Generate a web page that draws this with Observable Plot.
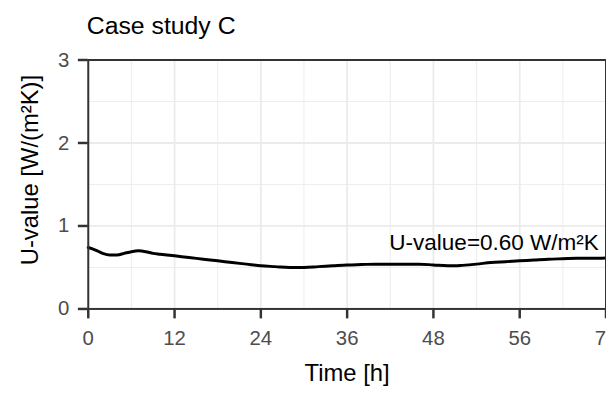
<!DOCTYPE html>
<html>
<head>
<meta charset="utf-8">
<script src="https://cdn.jsdelivr.net/npm/d3@7"></script>
<script src="https://cdn.jsdelivr.net/npm/@observablehq/plot@0.6"></script>
<style>
  html, body { margin: 0; padding: 0; overflow: hidden; background: #fff; }
  #chart svg { font-family: "Liberation Sans", Arial, sans-serif; display: block; }
</style>
</head>
<body>
<div id="chart"></div>
<script>
// Data
const hours = [0,1,2,3,4,5,6,7,8,9,10,12,14,16,18,20,22,24,26,28,30,32,34,36,38,40,42,44,46,48,50,51,52,54,56,58,60,62,64,66,68,70,72];
const uValues = [0.74,0.71,0.67,0.65,0.65,0.67,0.69,0.70,0.69,0.67,0.66,0.64,0.62,0.60,0.58,0.56,0.54,0.52,0.51,0.50,0.50,0.51,0.52,0.53,0.535,0.54,0.54,0.54,0.54,0.53,0.52,0.52,0.525,0.54,0.56,0.57,0.58,0.59,0.60,0.605,0.61,0.61,0.615];

const xTicks = [0,12,24,36,48,60,72];
const xTickLabels = ["0","12","24","36","48","56","72"];
const xMinorTicks = [6,18,30,42,54,66];
const yTicks = [0,1,2,3];
const yTickLabels = ["0","1","2","3"];
const yMinorTicks = [0.5,1.5,2.5];

const titleText = "Case study C";
const xLabel = "Time [h]";
const yLabel = "U-value [W/(m²K)]";
const annotationText = ["U-value=0.60 W/m²K"];
const annotationX = [71];
const annotationY = [0.80];

const data = hours.map((h, i) => ({h, u: uValues[i]}));
const annot = annotationText.map((t, i) => ({t, x: annotationX[i], y: annotationY[i]}));

const chart = Plot.plot({
  width: 611,
  height: 393,
  marginLeft: 88.5,
  marginRight: 0.5,
  marginTop: 60,
  marginBottom: 82,
  x: {domain: [0, 72], axis: null},
  y: {domain: [0, 3], axis: null},
  marks: [
    Plot.gridX(xMinorTicks, {stroke: "#ebebeb", strokeOpacity: 1, strokeWidth: 0.9}),
    Plot.gridY(yMinorTicks, {stroke: "#ebebeb", strokeOpacity: 1, strokeWidth: 0.9}),
    Plot.gridX(xTicks, {stroke: "#ebebeb", strokeOpacity: 1, strokeWidth: 1.8}),
    Plot.gridY(yTicks, {stroke: "#ebebeb", strokeOpacity: 1, strokeWidth: 1.8}),
    Plot.line(data, {x: "h", y: "u", stroke: "black", strokeWidth: 3, curve: "monotone-x"}),
    Plot.text(annot, {x: "x", y: "y", text: "t", textAnchor: "end", lineAnchor: "middle", fontSize: 22.7, fill: "black"}),
    Plot.frame({stroke: "#333333", strokeWidth: 2}),
    Plot.axisX(xTicks, {tickFormat: (d, i) => xTickLabels[i], tickSize: 10, tickPadding: 12, fontSize: 20.5, stroke: "#333333", strokeWidth: 2.5, fill: "#4d4d4d"}),
    Plot.axisY(yTicks, {tickFormat: (d, i) => yTickLabels[i], tickSize: 10, tickPadding: 9, fontSize: 20.5, stroke: "#333333", strokeWidth: 2.5, fill: "#4d4d4d"}),
    Plot.text([titleText], {frameAnchor: "top-left", dx: -1.5, dy: -26, lineAnchor: "bottom", textAnchor: "start", fontSize: 25, fill: "black"}),
    Plot.text([xLabel], {frameAnchor: "bottom", dy: 73, lineAnchor: "bottom", textAnchor: "middle", fontSize: 24, fill: "black"}),
    Plot.text([yLabel], {frameAnchor: "left", dx: -58.5, dy: -14.5, rotate: -90, lineAnchor: "middle", textAnchor: "middle", fontSize: 24, fill: "black"})
  ]
});
document.getElementById("chart").appendChild(chart);
</script>
</body>
</html>
